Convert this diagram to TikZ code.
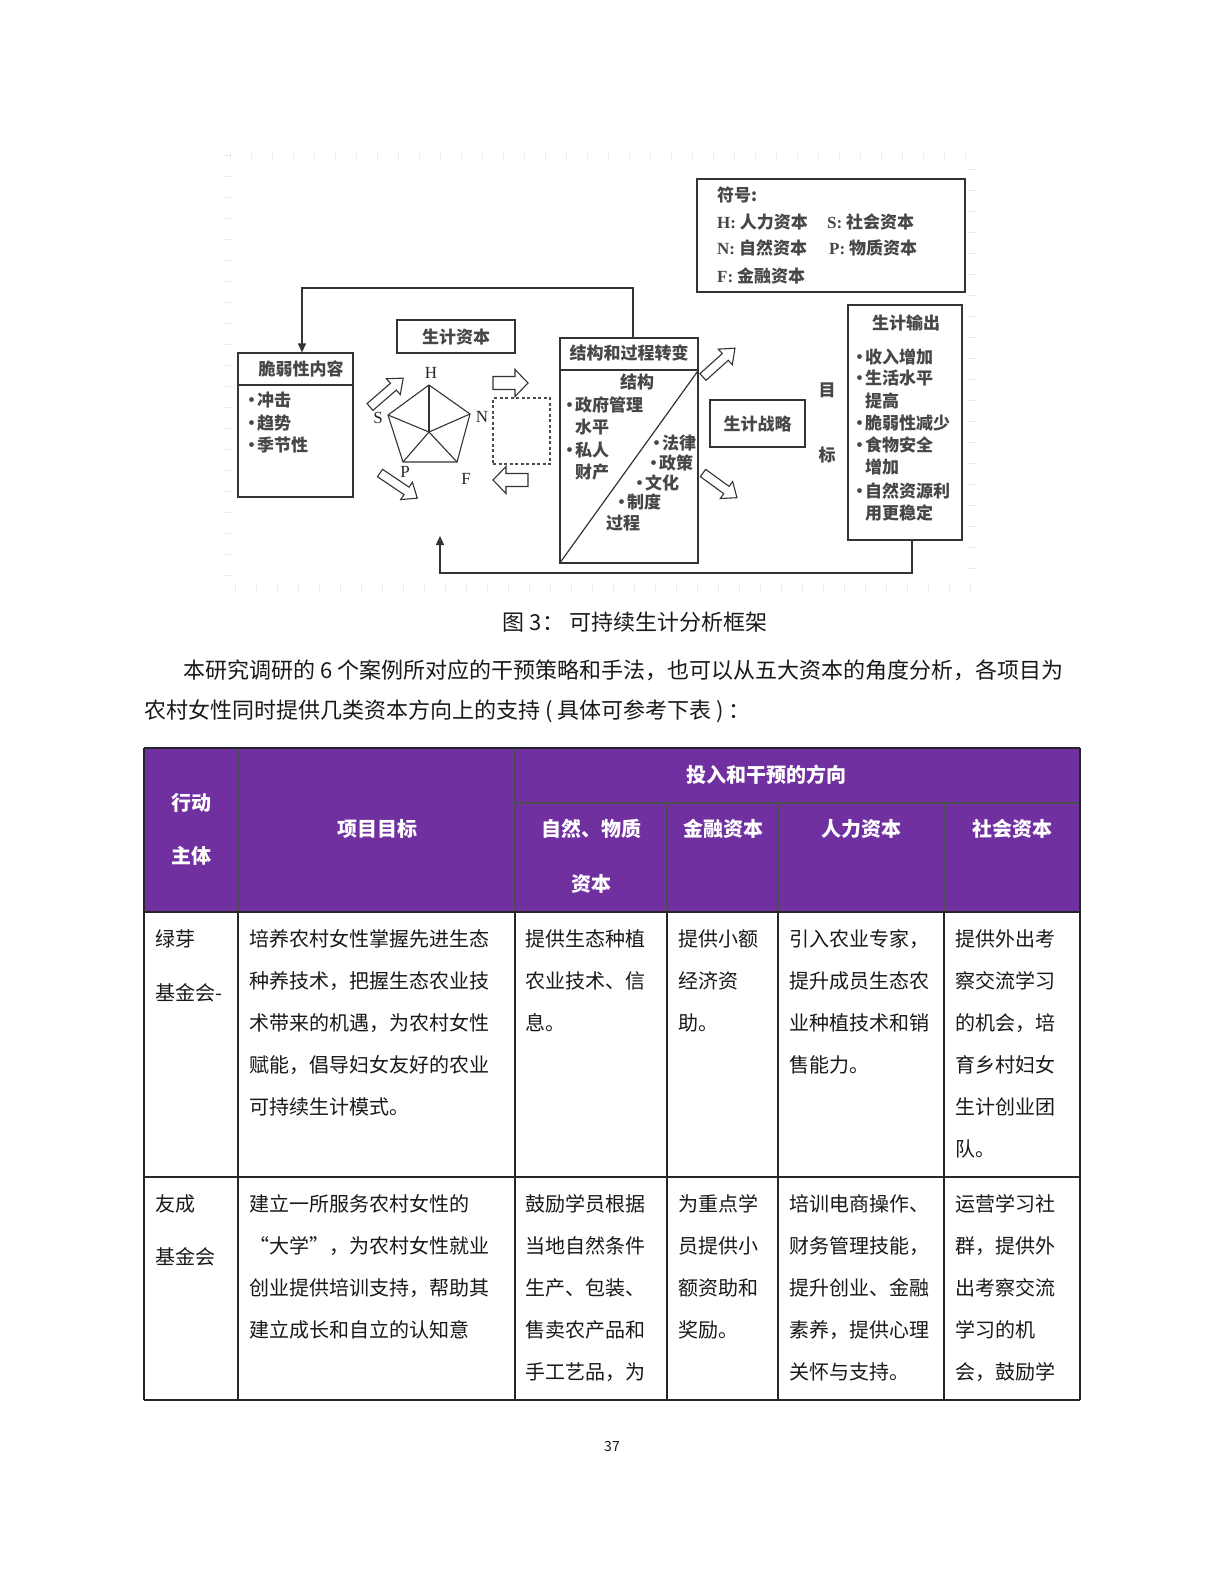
\documentclass[tikz,border=0pt]{standalone}
\usepackage{fontspec}
\setmainfont{Noto Sans CJK SC}
\newfontfamily\tms{Liberation Serif}
\usetikzlibrary{arrows.meta,calc}
\definecolor{hdr}{RGB}{112,48,160}
\newcommand\dotitem{\makebox[12pt][l]{\hspace{-2pt}·}}
\newcommand\cellcol[4]{\foreach \t [count=\i] in {#4}{\node[cell] (#1-\i) at (#2,{#3+(\i-1)*42}) {\t};}}
\newcommand\hollowarrow[6]{% x y angle length shaft-half head-half
  \begin{scope}[shift={(#1,#2)},rotate=#3]
    \draw[hollow] (0,-#5) -- ({#4-13},-#5) -- ({#4-13},-#6) -- (#4,0) -- ({#4-13},#6) -- ({#4-13},#5) -- (0,#5) -- cycle;
  \end{scope}}
\begin{document}
\begin{tikzpicture}[x=1pt,y=-1pt,
  dbox/.style={draw=black!80, line width=1.2pt, inner sep=0},
  dline/.style={draw=black!80, line width=1.2pt},
  dt/.style={inner sep=0, font=\bfseries\fontsize{17}{20}\selectfont, text=black!72, text height=15pt, text depth=2pt},
  lat/.style={inner sep=0, font=\tms\fontsize{17}{20}\selectfont, text=black!85},
  hollow/.style={draw=black!80, line width=1.1pt, fill=white, line join=miter},
  fb/.style={draw=black!80, line width=1.2pt},
  cell/.style={anchor=west, inner sep=0, font=\fontsize{20}{24}\selectfont, text=black!90, text height=17.6pt, text depth=2.4pt},
  hcell/.style={inner sep=0, font=\bfseries\fontsize{20}{24}\selectfont, text=white},
  para/.style={inner sep=0, anchor=west, font=\fontsize{22}{26}\selectfont, text=black!90},
  tl/.style={draw=black!85, line width=1.1pt},
  hl/.style={draw=black!70, line width=1.1pt}]
\useasboundingbox (0,0) rectangle (1224,1584);
\fill[white] (0,0) rectangle (1224,1584);

% faint scan frame
\draw[black!8, line width=8pt, dash pattern=on 1.2pt off 19.8pt] (227,155) rectangle (972,588);

% legend
\node[dbox, minimum width=268, minimum height=113] (legend) at (831,235.5) {};
\node[dt, anchor=west] (lg0) at (717,195) {符号:};
\node[dt, anchor=west] (lg1) at (717,222) {{\tms\bfseries H:} 人力资本};
\node[dt, anchor=west] (lg2) at (827,222) {{\tms\bfseries S:} 社会资本};
\node[dt, anchor=west] (lg3) at (717,248) {{\tms\bfseries N:} 自然资本};
\node[dt, anchor=west] (lg4) at (829,248) {{\tms\bfseries P:} 物质资本};
\node[dt, anchor=west] (lg5) at (717,276) {{\tms\bfseries F:} 金融资本};

% vulnerability context
\node[dbox, minimum width=115, minimum height=144] (vul) at (295.5,425) {};
\draw[dline] (vul.west |- 0,385) -- (vul.east |- 0,385);
\node[dt] (vult) at (301,369) {脆弱性内容};
\node[dt, anchor=west] (v1) at (245,400) {\dotitem 冲击};
\node[dt, anchor=west] (v2) at (245,423) {\dotitem 趋势};
\node[dt, anchor=west] (v3) at (245,445) {\dotitem 季节性};

% livelihood capital
\node[dbox, dt, minimum width=118, minimum height=33] (cap) at (456,336.5) {生计资本};
\coordinate (pH) at (429,385);
\coordinate (pN) at (470,414);
\coordinate (pF) at (457,462);
\coordinate (pP) at (403,462);
\coordinate (pS) at (388,415);
\coordinate (pC) at (429,432);
\draw[dline, line width=1.1pt, line join=miter] (pH) -- (pN) -- (pF) -- (pP) -- (pS) -- cycle;
\foreach \v in {pH,pN,pF,pP,pS} \draw[dline, line width=1.1pt] (pC) -- (\v);
\node[lat] (lH) at (431,373) {H};
\node[lat] (lN) at (482,417) {N};
\node[lat] (lS) at (378,418) {S};
\node[lat] (lP) at (405,472) {P};
\node[lat] (lF) at (466,479) {F};

% hollow arrows
\hollowarrow{370}{407}{41}{44}{4.5}{10.5}
\hollowarrow{380}{473}{-34}{45}{4.5}{10.5}
\hollowarrow{493}{383}{0}{35}{6.5}{13.5}
\hollowarrow{528}{480}{180}{35}{6.5}{13.5}
\hollowarrow{703}{377}{42}{43}{4.5}{10.5}
\hollowarrow{703}{473}{-36}{42}{4.5}{10.5}

% dashed box
\node[draw=black!70, line width=1.2pt, dash pattern=on 3pt off 2.5pt, minimum width=57, minimum height=66, inner sep=0] (dsh) at (521.5,431) {};

% structures and processes
\node[dbox, minimum width=138, minimum height=225] (str) at (629,450.5) {};
\draw[dline] (str.west |- 0,370) -- (str.east |- 0,370);
\draw[dline] (str.south west) -- (str.east |- 0,370);
\node[dt] (strt) at (629,353) {结构和过程转变};
\node[dt] (s0) at (637,382) {结构};
\node[dt, anchor=west] (s1) at (563,405) {\dotitem 政府管理};
\node[dt, anchor=west] (s2) at (575,427) {水平};
\node[dt, anchor=west] (s3) at (563,450) {\dotitem 私人};
\node[dt, anchor=west] (s4) at (575,472) {财产};
\node[dt, anchor=west] (s5) at (650,443) {\dotitem 法律};
\node[dt, anchor=west] (s6) at (647,463) {\dotitem 政策};
\node[dt, anchor=west] (s7) at (633,483) {\dotitem 文化};
\node[dt, anchor=west] (s8) at (615,502) {\dotitem 制度};
\node[dt, anchor=west] (s9) at (606,523) {过程};

% strategies
\node[dbox, dt, minimum width=95, minimum height=47] (stg) at (757.5,423.5) {生计战略};
\node[dt] (mu) at (827,390) {目};
\node[dt] (biao) at (827,455) {标};

% outcomes
\node[dbox, minimum width=114, minimum height=235] (out) at (905,422.5) {};
\node[dt] (ot) at (906,323) {生计输出};
\node[dt, anchor=west] (o1) at (853,357) {\dotitem 收入增加};
\node[dt, anchor=west] (o2) at (853,378) {\dotitem 生活水平};
\node[dt, anchor=west] (o3) at (865,401) {提高};
\node[dt, anchor=west] (o4) at (853,423) {\dotitem 脆弱性减少};
\node[dt, anchor=west] (o5) at (853,445) {\dotitem 食物安全};
\node[dt, anchor=west] (o6) at (865,467) {增加};
\node[dt, anchor=west] (o7) at (853,491) {\dotitem 自然资源利};
\node[dt, anchor=west] (o8) at (865,513) {用更稳定};

% feedback connectors
\draw[fb, -{Triangle[length=9pt,width=8pt]}] (str.north -| 633,0) |- (302,288) -- (vul.north -| 302,0);
\coordinate (fbtip) at (440,536);
\draw[fb, -{Triangle[length=9pt,width=8pt]}] (out.south -| 912,0) |- (440,573) -- (fbtip);

% caption and paragraph
\node[inner sep=0, font=\fontsize{22}{26}\selectfont, text=black!90] (cap3) at (635,622) {图 3： 可持续生计分析框架};
\node[para] (p1) at (183,670) {本研究调研的 6 个案例所对应的干预策略和手法，也可以从五大资本的角度分析，各项目为};
\node[para] (p2) at (144,711) {农村女性同时提供几类资本方向上的支持 ( 具体可参考下表 ) ：};

% table header
\fill[hdr] (144,748) rectangle (1080,912);
\draw[hl] (238,748) -- (238,912);
\draw[hl] (515,748) -- (515,912);
\draw[hl] (515,803) -- (1080,803);
\draw[hl] (667,803) -- (667,912);
\draw[hl] (778,803) -- (778,912);
\draw[hl] (944,803) -- (944,912);
\node[hcell] (h0) at (766,775) {投入和干预的方向};
\node[hcell] (h1) at (191,803) {行动};
\node[hcell] (h2) at (191,856) {主体};
\node[hcell] (h3) at (377,829) {项目目标};
\node[hcell] (h4) at (591,829) {自然、物质};
\node[hcell] (h5) at (591,884) {资本};
\node[hcell] (h6) at (723,829) {金融资本};
\node[hcell] (h7) at (861,829) {人力资本};
\node[hcell] (h8) at (1012,829) {社会资本};

% table body lines
\draw[tl] (144,748) -- (1080,748);
\draw[tl] (144,748) -- (144,1400);
\draw[tl] (1080,748) -- (1080,1400);
\draw[tl] (144,912) -- (1080,912);
\draw[tl] (144,1177) -- (1080,1177);
\draw[tl] (144,1400) -- (1080,1400);
\foreach \x in {238,515,667,778,944} \draw[tl] (\x,912) -- (\x,1400);

% row 1
\node[cell] (r1a) at (155,939) {绿芽};
\node[cell] (r1b) at (155,993) {基金会-};
\cellcol{r1c2}{249}{939}{培养农村女性掌握先进生态,种养技术，把握生态农业技,术带来的机遇，为农村女性,赋能，倡导妇女友好的农业,可持续生计模式。}
\cellcol{r1c3}{525}{939}{提供生态种植,农业技术、信,息。}
\cellcol{r1c4}{678}{939}{提供小额,经济资,助。}
\cellcol{r1c5}{789}{939}{引入农业专家，,提升成员生态农,业种植技术和销,售能力。}
\cellcol{r1c6}{955}{939}{提供外出考,察交流学习,的机会，培,育乡村妇女,生计创业团,队。}

% row 2
\node[cell] (r2a) at (155,1204) {友成};
\node[cell] (r2b) at (155,1257) {基金会};
\cellcol{r2c2}{249}{1204}{建立一所服务农村女性的,“大学”，为农村女性就业,创业提供培训支持，帮助其,建立成长和自立的认知意}
\cellcol{r2c3}{525}{1204}{鼓励学员根据,当地自然条件,生产、包装、,售卖农产品和,手工艺品，为}
\cellcol{r2c4}{678}{1204}{为重点学,员提供小,额资助和,奖励。}
\cellcol{r2c5}{789}{1204}{培训电商操作、,财务管理技能，,提升创业、金融,素养，提供心理,关怀与支持。}
\cellcol{r2c6}{955}{1204}{运营学习社,群，提供外,出考察交流,学习的机,会，鼓励学}

% page number
\node[inner sep=0, font=\fontsize{14}{16}\selectfont, text=black!90] (pg) at (612,1446) {37};
\end{tikzpicture}
\end{document}
